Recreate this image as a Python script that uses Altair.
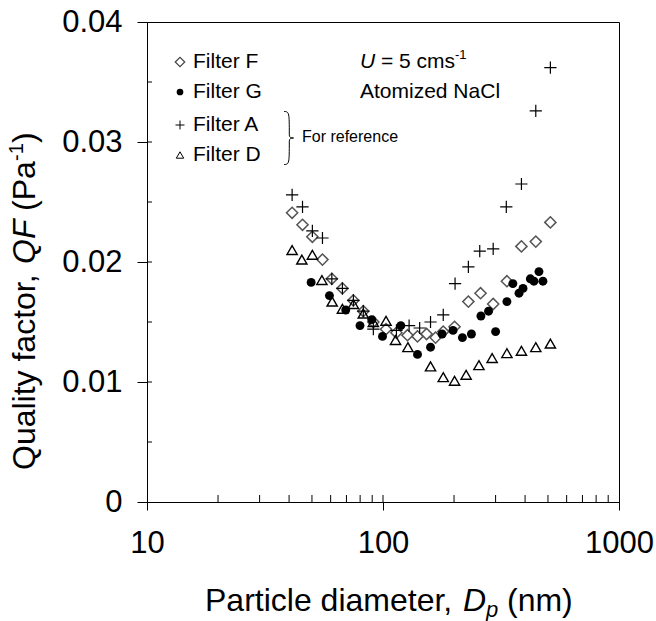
import altair as alt
import pandas as pd

# ---------------- data ----------------
# Filter F (open diamonds)
f_d = [41.2, 45.6, 50.2, 55.4, 60.7, 67.3, 74.9, 82.5, 91.0, 103, 114, 127, 140, 153, 167, 180, 201, 230, 259, 293, 335, 386, 444, 512]
f_qf = [0.0241, 0.0231, 0.0221, 0.0202, 0.0186, 0.0178, 0.0168, 0.0159, 0.0150, 0.0144, 0.0141, 0.0139, 0.0138, 0.0140, 0.0137, 0.0142, 0.0146, 0.0167, 0.0174, 0.0165, 0.0184, 0.0213, 0.0217, 0.0233]
# Filter G (filled circles)
g_d = [49.6, 59.3, 69.5, 79.9, 89.6, 99.5, 119, 140, 159, 178, 198, 217, 237, 260, 280, 300, 335, 355, 377, 392, 421, 436, 458, 476]
g_qf = [0.0183, 0.0172, 0.0160, 0.0147, 0.0152, 0.0138, 0.0147, 0.0123, 0.0129, 0.0140, 0.0143, 0.0137, 0.0140, 0.0155, 0.0159, 0.0142, 0.0167, 0.0182, 0.0174, 0.0178, 0.0186, 0.0184, 0.0192, 0.0184]
# Filter A (plus)
a_d = [41.2, 45.6, 50.2, 55.4, 60.7, 67.3, 74.9, 82.5, 91.0, 114, 129, 143, 159, 180, 202, 230, 257, 293, 333, 386, 444, 512]
a_qf = [0.0256, 0.0246, 0.0226, 0.0220, 0.0186, 0.0178, 0.0168, 0.0159, 0.0144, 0.0143, 0.0147, 0.0145, 0.0150, 0.0156, 0.0182, 0.0196, 0.0209, 0.0211, 0.0246, 0.0265, 0.0326, 0.0362]
# Filter D (open triangles)
d_d = [41.2, 45.3, 50.2, 55.1, 60.9, 67.3, 74.9, 82.5, 91.0, 103, 113, 127.5, 159, 180, 201, 225, 255, 290, 335, 386, 444, 512]
d_qf = [0.0210, 0.0202, 0.0206, 0.0185, 0.0167, 0.0161, 0.0165, 0.0157, 0.0150, 0.0151, 0.0135, 0.0129, 0.0113, 0.0104, 0.0101, 0.0106, 0.0114, 0.0120, 0.0124, 0.0126, 0.0129, 0.0132]

x_major = [10, 100, 1000]
x_minor = [20, 30, 40, 50, 60, 70, 80, 90, 100, 200, 300, 400, 500, 600, 700, 800, 900]
y_major = [0, 0.01, 0.02, 0.03, 0.04]
y_minor = [0.005, 0.01, 0.015, 0.02, 0.025, 0.03, 0.035]

legend_names = ["Filter F", "Filter G", "Filter A", "Filter D"]

# ---------------- layout ----------------
W, H = 472, 480
FONT = "Liberation Sans"
PLUS = "M-1,0H1M0,-1V1"
BRACE = "M0,-1C0.2,-1 0.2,-0.95 0.2,-0.12C0.2,-0.02 0.26,0 0.36,0C0.26,0 0.2,0.02 0.2,0.12C0.2,0.95 0.2,1 0,1"

xs = alt.Scale(type="log", domain=[10, 1000])
ys = alt.Scale(domain=[0, 0.04])

XAX = alt.Axis(
    values=x_major, format="d", title=None, grid=False, tickSize=8,
    tickColor="black", domainColor="black", labelColor="black",
    labelFont=FONT, labelFontSize=31, labelPadding=18, labelFlush=False,
    labelOverlap=False)
YAX = alt.Axis(
    values=y_major, labelExpr="datum.value == 0 ? '0' : format(datum.value, '.2f')",
    title=None, grid=False, tickSize=10, tickColor="black", domainColor="black",
    labelColor="black", labelFont=FONT, labelFontSize=31, labelPadding=15,
    labelOverlap=False)


def series(d, q, **mk):
    df = pd.DataFrame({"d": d, "qf": q})
    return alt.Chart(df).mark_point(opacity=1, **mk).encode(
        x=alt.X("d:Q", scale=xs, axis=XAX),
        y=alt.Y("qf:Q", scale=ys, axis=YAX),
    )


f_layer = series(f_d, f_qf, shape="diamond", size=125, filled=False, stroke="#555555", strokeWidth=1.5)
g_layer = series(g_d, g_qf, shape="circle", size=80, filled=True, color="black")
a_layer = series(a_d, a_qf, shape=PLUS, size=150, filled=False, stroke="black", strokeWidth=1.2)
d_layer = series(d_d, d_qf, shape="triangle-up", size=105, filled=False, stroke="black", strokeWidth=1.4)

# inside ticks
xt = alt.Chart(pd.DataFrame({"d": x_minor})).mark_rule(color="black", strokeWidth=1).encode(
    x=alt.X("d:Q", scale=xs, axis=XAX), y=alt.value(H), y2=alt.value(H - 7))
yt = alt.Chart(pd.DataFrame({"qf": y_minor})).mark_rule(color="black", strokeWidth=1).encode(
    y=alt.Y("qf:Q", scale=ys, axis=YAX), x=alt.value(0), x2=alt.value(5))


def txt(s, x, y, size, style="normal", align="left", angle=0, baseline="middle"):
    return alt.Chart(pd.DataFrame({"t": [s]})).mark_text(
        font=FONT, fontSize=size, fontStyle=style, align=align, baseline=baseline,
        angle=angle, color="black").encode(text="t:N", x=alt.value(x), y=alt.value(y))


def sym(x, y, **mk):
    return alt.Chart(pd.DataFrame({"k": [0]})).mark_point(opacity=1, **mk).encode(
        x=alt.value(x), y=alt.value(y))


# legend
ly = [40, 70, 103, 133]
leg = [
    sym(33, ly[0], shape="diamond", size=90, filled=False, stroke="#444444", strokeWidth=1.2),
    sym(33, ly[1], shape="circle", size=45, filled=True, color="black"),
    sym(33, ly[2], shape=PLUS, size=80, filled=False, stroke="black", strokeWidth=1),
    sym(33, ly[3], shape="triangle-up", size=55, filled=False, stroke="black", strokeWidth=1),
]
for name, yy in zip(legend_names, ly):
    leg.append(txt(name, 46, yy, 21))
leg.append(sym(137, 116, shape=BRACE, size=2809, filled=False, stroke="black", strokeWidth=1))
leg.append(txt("For reference", 155, 115, 16))

# annotation U = 5 cms-1, Atomized NaCl
ann = [
    txt("U", 213, 40, 21, style="italic"),
    txt("= 5 cms", 234, 40, 21),
    txt("-1", 308, 33, 13),
    txt("Atomized NaCl", 213, 70, 21),
]

# axis titles
xtitle = [
    txt("Particle diameter,", 58, 589, 32, baseline="alphabetic"),
    txt("D", 316, 589, 32, style="italic", baseline="alphabetic"),
    txt("p", 339, 595, 22, style="italic", baseline="alphabetic"),
    txt("(nm)", 360, 589, 32, baseline="alphabetic"),
]
ytitle = [
    txt("Quality factor,", -122, 448, 32, angle=270),
    txt("QF", -122, 242, 32, style="italic", angle=270),
    txt("(Pa", -122, 189, 32, angle=270),
    txt("-1", -130, 139, 20, angle=270),
    txt(")", -122, 121, 32, angle=270),
]

chart = alt.layer(
    f_layer, xt, yt, d_layer, a_layer, g_layer, *leg, *ann, *xtitle, *ytitle
).properties(
    width=W, height=H,
    autosize=alt.AutoSizeParams(type="none"),
    padding={"left": 147, "top": 22, "right": 37, "bottom": 119},
).configure(background="white").configure_view(stroke="black", strokeWidth=1)

chart.save("out.html", embed_options={"renderer": "svg", "actions": False})
